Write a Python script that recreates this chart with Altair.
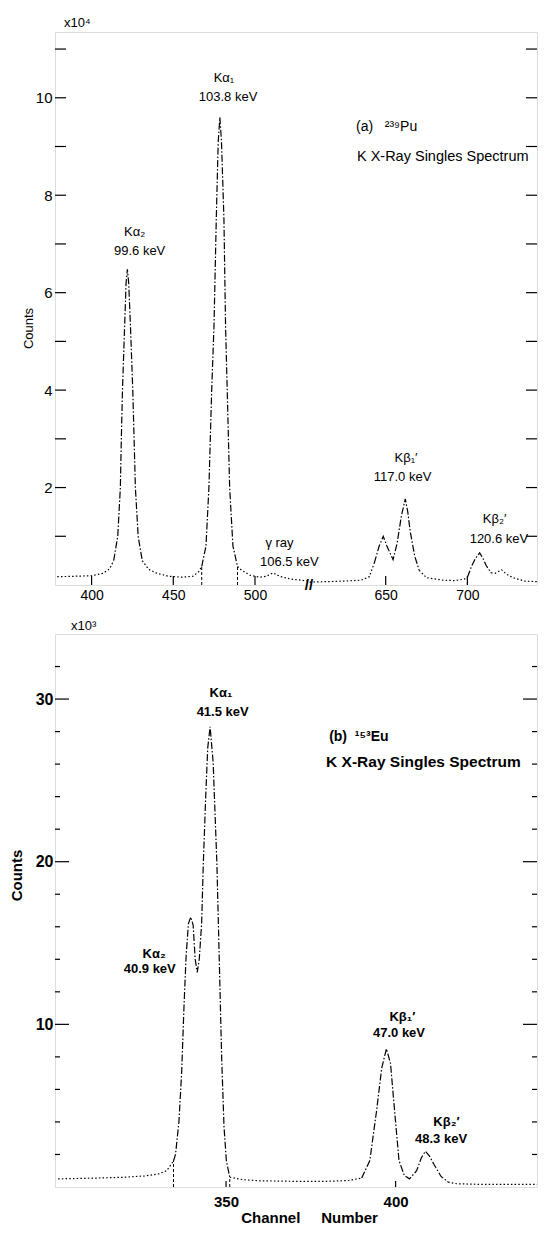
import altair as alt
import pandas as pd

FONT = "Liberation Sans"

# ---------------- Panel (a): 239Pu, counts in units of 10^4 ----------------
a_channel = [379, 390, 400, 407, 411, 413.5, 416, 417.6, 418.2, 418.9, 420.2, 421.1, 421.9,
             422.7, 423.8, 425.2, 426.0, 426.8, 428.5, 431, 435, 440, 447, 455, 462, 465.5,
             467.4, 470, 471.8, 473.5, 474.9, 476.3, 477.5, 478.5, 479.5, 481, 482, 483, 484.5,
             486.5, 489.3, 492, 497, 503, 507, 511, 515, 522, 528, 532.5, 603.5, 615, 625, 635,
             640, 643, 646, 648.5, 650.7, 654.5, 657, 659.5, 662, 663.5, 665, 667.7, 670.5, 675,
             685, 692, 698, 700, 702.5, 705, 707.5, 709.5, 711.5, 714.5, 717, 721, 724, 728,
             735, 748.5]
a_counts = [0.17, 0.18, 0.19, 0.24, 0.33, 0.5, 1.0, 2.0, 3.0, 4.0, 5.3, 6.2, 6.48,
            6.2, 5.3, 4.0, 3.0, 2.0, 1.0, 0.5, 0.32, 0.24, 0.18, 0.16, 0.18, 0.27,
            0.38, 0.8, 2.0, 4.0, 5.3, 7.5, 9.1, 9.6, 9.1, 7.5, 5.3, 4.0, 2.0,
            0.8, 0.38, 0.3, 0.2, 0.16, 0.18, 0.25, 0.18, 0.12, 0.1, 0.08, 0.06, 0.07, 0.08, 0.1,
            0.17, 0.45, 0.8, 1.0, 0.8, 0.52, 0.86, 1.4, 1.77, 1.5, 1.1, 0.6, 0.3, 0.15,
            0.1, 0.09, 0.12, 0.16, 0.38, 0.55, 0.66, 0.55, 0.4, 0.25, 0.24, 0.31, 0.22, 0.15,
            0.08, 0.06]
# line style of the stretch starting at each point: d = dotted, k = dash-dot
a_style = ("ddddd" + "k" * 14 + "d" * 7 + "k" * 14 + "d" * 15 + "k" * 11 + "d" * 5
           + "k" * 6 + "d" * 7)

a_marker_channel = [467.4, 489.3, 700]
a_marker_top = [0.38, 0.38, 0.16]

a_y_major = [2, 4, 6, 8, 10]
a_y_minor = [1, 3, 5, 7, 9, 11]
a_x_ticks = [400, 450, 500, 650, 700]
a_break_from, a_break_to = 533, 603
a_scale_note = "x10\u2074"

a_lab_c = ["K\u03b1\u2082", "99.6 keV", "K\u03b1\u2081", "103.8 keV", "\u03b3 ray", "106.5 keV",
           "K\u03b2\u2081\u2032", "117.0 keV", "K\u03b2\u2082\u2032", "120.6 keV"]
a_lab_c_ch = [426.4, 429.4, 481, 483.5, 515, 521, 662.4, 660.3, 716.7, 719.3]
a_lab_c_y = [7.24, 6.86, 10.4, 10.02, 0.87, 0.47, 2.6, 2.21, 1.35, 0.94]
a_lab_l = ["(a)\u00a0\u00a0\u00a0\u00b2\u00b3\u2079Pu", "K X-Ray Singles Spectrum"]
a_lab_l_ch = [631.8, 632.4]
a_lab_l_y = [9.39, 8.79]
a_lab_l_size = [14, 14.5]

# ---------------- Panel (b): 153Eu, counts in units of 10^3 ----------------
b_channel = [300.5, 305, 312, 320, 326, 330, 332.5, 334.5, 335.1, 336.1, 336.9, 337.6, 338.2,
             338.9, 339.6, 340.3, 340.9, 341.5, 342.1, 342.8, 343.3, 344.0, 344.6, 345.3, 346.2,
             347.3, 348.0, 348.7, 349.4, 350.1, 351.1, 355, 360, 370, 380, 386, 390, 392.4,
             394.4, 395.9, 397.3, 398.5, 399.7, 401, 402.6, 404.1, 406.2, 407.6, 408.8, 410,
             411.3, 413.4, 415.5, 418, 425, 444.5]
b_counts = [0.5, 0.52, 0.55, 0.6, 0.68, 0.8, 1.0, 1.6, 2.0, 4.0, 7.0, 11.1, 14.1,
            16.2, 16.6, 16.1, 14.0, 13.2, 14.0, 16.2, 19.9, 24.0, 27.0, 28.3, 26.1,
            19.9, 14.0, 8.0, 3.7, 1.6, 0.6, 0.45, 0.38, 0.35, 0.35, 0.4, 0.55, 1.63,
            4.7, 7.3, 8.5, 7.6, 4.7, 1.63, 0.7, 0.5, 1.0, 1.8, 2.2, 1.9,
            1.4, 0.65, 0.3, 0.2, 0.16, 0.16]
b_style = "d" * 7 + "k" * 23 + "d" * 6 + "k" * 16 + "d" * 4

b_marker_channel = [334.5, 351.1]
b_marker_top = [1.6, 0.6]

b_y_major = [10, 20, 30]
b_y_minor = [2, 4, 6, 8, 12, 14, 16, 18, 22, 24, 26, 28, 32]
b_x_ticks = [350, 400]
b_scale_note = "x10\u00b3"

b_lab_c = ["K\u03b1\u2081", "41.5 keV", "K\u03b1\u2082", "40.9 keV", "K\u03b2\u2081\u2032",
           "47.0 keV", "K\u03b2\u2082\u2032", "48.3 keV"]
b_lab_c_ch = [348.5, 349, 328.8, 327.5, 402, 401, 415, 413.4]
b_lab_c_y = [30.35, 29.2, 14.35, 13.43, 10.45, 9.49, 4.0, 2.95]
b_lab_l = ["(b)\u00a0\u00a0\u00b9\u2075\u00b3Eu", "K X-Ray Singles Spectrum"]
b_lab_l_ch = [380.4, 379.5]
b_lab_l_y = [27.66, 26.1]
b_lab_l_size = [14, 15.5]


def gapx(ch):
    """Broken channel axis of panel (a)."""
    return ch if ch <= a_break_from else ch - (a_break_to - a_break_from)


def line_frame(ch, val, style, fx):
    rows, seg, cur = [], -1, None
    for i in range(len(ch) - 1):
        s = style[i]
        if s != cur:
            seg += 1
            cur = s
            rows.append(dict(x=fx(ch[i]), c=val[i], seg=seg, sty=s))
        rows.append(dict(x=fx(ch[i + 1]), c=val[i + 1], seg=seg, sty=s))
    return pd.DataFrame(rows)


def panel(ch, val, style, fx, xdom, ydom, W, H, xaxis, yaxis, markers, mtop,
          ymaj, ymin, majlen, minlen, xt, xtlen, labc, labc_ch, labc_y, labl, labl_ch,
          labl_y, labl_size, weight, lsize, note, note_dx, note_dy, extra=None):
    df = line_frame(ch, val, style, fx)
    xs = alt.Scale(domain=xdom, nice=False, zero=False)
    ys = alt.Scale(domain=ydom, nice=False, zero=False)

    def X(f):
        return alt.X(f, scale=xs, axis=xaxis)

    def Y(f):
        return alt.Y(f, scale=ys, axis=yaxis)

    line = alt.Chart(df).mark_line(color="black", strokeWidth=1.2, clip=True).encode(
        x=X("x:Q"), y=Y("c:Q"),
        detail="seg:N",
        strokeDash=alt.StrokeDash("sty:N", scale=alt.Scale(domain=["d", "k"],
                                  range=[[1.5, 2.2], [7, 2, 1.5, 2]]), legend=None),
    )
    mdf = pd.DataFrame(dict(x=[fx(m) for m in markers], top=mtop, base=[0.0] * len(markers)))
    mk = alt.Chart(mdf).mark_rule(color="black", strokeWidth=1, strokeDash=[3, 2]).encode(
        x=X("x:Q"), y=Y("base:Q"), y2="top:Q")
    majdf = pd.DataFrame(dict(v=ymaj))
    mindf = pd.DataFrame(dict(v=ymin))
    tk = []
    for d, ln in ((majdf, majlen), (mindf, minlen)):
        tk.append(alt.Chart(d).mark_rule(color="black", strokeWidth=1.2).encode(
            x=alt.value(0), x2=alt.value(ln), y=Y("v:Q")))
        tk.append(alt.Chart(d).mark_rule(color="black", strokeWidth=1.2).encode(
            x=alt.value(W - ln), x2=alt.value(W), y=Y("v:Q")))
    xtdf = pd.DataFrame(dict(v=[fx(t) for t in xt]))
    tk.append(alt.Chart(xtdf).mark_rule(color="black", strokeWidth=1.2).encode(
        x=X("v:Q"), y=alt.value(H - xtlen), y2=alt.value(H)))
    tc = alt.Chart(pd.DataFrame(dict(x=[fx(c) for c in labc_ch], c=labc_y, t=labc))).mark_text(
        font=FONT, fontSize=lsize, fontWeight=weight, baseline="middle", align="center",
        color="black").encode(x=X("x:Q"), y=Y("c:Q"), text="t:N")
    tl = alt.Chart(pd.DataFrame(dict(x=[fx(c) for c in labl_ch], c=labl_y, t=labl,
                                     s=labl_size))).mark_text(
        font=FONT, fontWeight=weight, baseline="middle", align="left",
        color="black").encode(x=X("x:Q"), y=Y("c:Q"), text="t:N",
                              size=alt.Size("s:Q", scale=None, legend=None))
    nt = alt.Chart(pd.DataFrame(dict(t=[note]))).mark_text(
        font=FONT, fontSize=13, baseline="middle", align="left", color="black").encode(
        x=alt.value(note_dx), y=alt.value(note_dy), text="t:N")
    layers = [line, mk] + tk + [tc, tl, nt]
    if extra is not None:
        layers.append(extra(X, Y))
    return alt.layer(*layers).properties(width=W, height=H)


W, H = 482, 553

# --- panel (a) axes
a_xaxis = alt.Axis(values=[gapx(t) for t in a_x_ticks],
                   labelExpr=f"datum.value > {a_break_from} ? datum.value + "
                             f"{a_break_to - a_break_from} : datum.value",
                   ticks=False, tickSize=0, domain=False, grid=False, title=None,
                   labelFont=FONT, labelFontSize=14, labelPadding=3, labelColor="black",
                   labelOverlap=False, labelFlush=False)
a_yaxis = alt.Axis(values=a_y_major, ticks=False, tickSize=0, domain=False, grid=False,
                   title="Counts", titleFont=FONT, titleFontSize=13, titleFontWeight="normal",
                   titleAngle=270, titleX=-27, titleY=296, titleAlign="center",
                   titleBaseline="middle", titleColor="black",
                   labelFont=FONT, labelFontSize=15, labelPadding=3, labelColor="black",
                   labelOverlap=False, labelFlush=False)


def a_break_mark(X, Y):
    d = pd.DataFrame(dict(x=[a_break_from], c=[0.0], t=["//"]))
    return alt.Chart(d).mark_text(font=FONT, fontSize=15, fontWeight="bold", baseline="middle",
                                  align="center", color="black").encode(
        x=X("x:Q"), y=Y("c:Q"), text="t:N")


top = panel(a_channel, a_counts, a_style, gapx, [377.6, 672.6], [0, 11.35], W, H,
            a_xaxis, a_yaxis, a_marker_channel, a_marker_top, a_y_major, a_y_minor, 11, 11,
            a_x_ticks, 9, a_lab_c, a_lab_c_ch, a_lab_c_y, a_lab_l, a_lab_l_ch, a_lab_l_y,
            a_lab_l_size, "normal", 13, a_scale_note, 9, -9, extra=a_break_mark)

# --- panel (b) axes
b_xaxis = alt.Axis(values=b_x_ticks, ticks=False, tickSize=0, domain=False, grid=False,
                   title="Channel\u00a0\u00a0\u00a0\u00a0\u00a0Number", titleFont=FONT,
                   titleFontSize=15, titleFontWeight="bold", titleX=254, titleY=30,
                   titleAlign="center", titleBaseline="middle", titleColor="black",
                   labelFont=FONT, labelFontSize=15, labelFontWeight="bold", labelPadding=7,
                   labelColor="black", labelOverlap=False, labelFlush=False)
b_yaxis = alt.Axis(values=b_y_major, ticks=False, tickSize=0, domain=False, grid=False,
                   title="Counts", titleFont=FONT, titleFontSize=15, titleFontWeight="bold",
                   titleAngle=270, titleX=-39, titleY=241, titleAlign="center",
                   titleBaseline="middle", titleColor="black",
                   labelFont=FONT, labelFontSize=16, labelFontWeight="bold", labelPadding=2,
                   labelColor="black", labelOverlap=False, labelFlush=False)

bottom = panel(b_channel, b_counts, b_style, lambda c: c, [299.56, 441.7], [0, 34], W, H,
               b_xaxis, b_yaxis, b_marker_channel, b_marker_top, b_y_major, b_y_minor, 14, 5,
               b_x_ticks, 6, b_lab_c, b_lab_c_ch, b_lab_c_y, b_lab_l, b_lab_l_ch, b_lab_l_y,
               b_lab_l_size, "bold", 13, b_scale_note, 16, -8)

chart = alt.vconcat(top, bottom, spacing=49, bounds="flush").properties(
    padding={"left": 0, "top": 8, "right": 0, "bottom": 0}
).configure_view(stroke="black", strokeWidth=1.2).configure(background="white")

chart.save("out.html", embed_options={"renderer": "svg", "actions": False})
